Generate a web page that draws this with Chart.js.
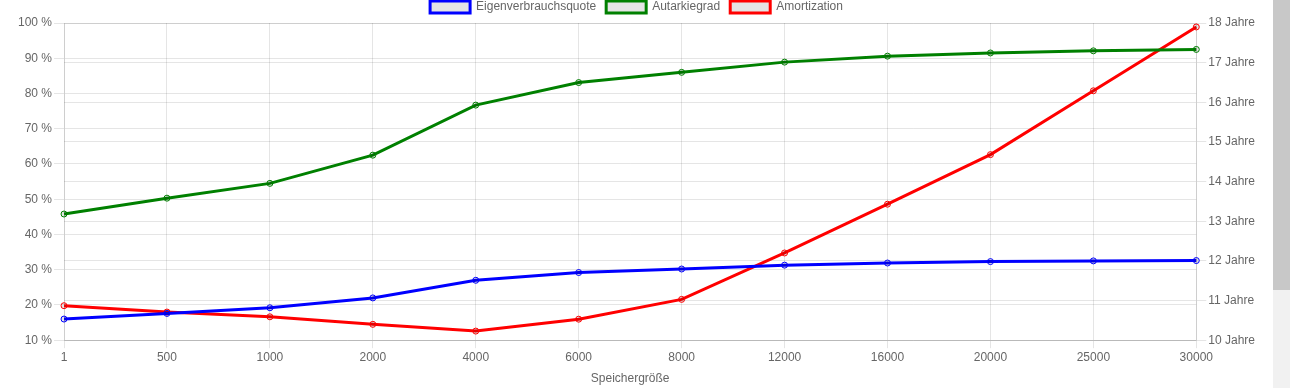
<!DOCTYPE html>
<html>
<head>
<meta charset="utf-8">
<script src="https://cdn.jsdelivr.net/npm/chart.js@4.4.1/dist/chart.umd.min.js"></script>
<style>
  html, body { margin: 0; padding: 0; background: #fff; overflow: hidden; }
  #wrap { position: absolute; left: 0; top: -9px; width: 1257px; height: 397px; }
  #sbTrack { position: absolute; left: 1273px; top: 0; width: 17px; height: 388px; background: #f1f1f1; }
  #sbThumb { position: absolute; left: 1273px; top: 0; width: 17px; height: 290px; background: #c8c8c8; }
</style>
</head>
<body>
<div id="wrap"><canvas id="chart"></canvas></div>
<div id="sbTrack"></div>
<div id="sbThumb"></div>
<script>
  const categories = ['1', '500', '1000', '2000', '4000', '6000', '8000', '12000', '16000', '20000', '25000', '30000'];
  const eigenverbrauch = [16.0, 17.6, 19.2, 22.0, 27.0, 29.2, 30.2, 31.3, 31.9, 32.3, 32.5, 32.6];
  const autarkie = [45.8, 50.3, 54.5, 62.5, 76.7, 83.1, 86.0, 88.9, 90.6, 91.5, 92.1, 92.5];
  const amortization = [10.87, 10.71, 10.59, 10.40, 10.23, 10.53, 11.03, 12.20, 13.43, 14.68, 16.29, 17.90];

  Chart.defaults.font.family = "'Helvetica Neue', Helvetica, Arial, 'Liberation Sans', sans-serif";
  Chart.defaults.font.size = 12;
  Chart.defaults.color = '#666';

  const line = (label, data, color, axis) => ({
    label,
    data,
    yAxisID: axis,
    borderColor: color,
    backgroundColor: 'rgba(0,0,0,0.1)',
    borderWidth: 3,
    pointRadius: 3,
    pointBorderWidth: 1,
    pointBackgroundColor: 'rgba(0,0,0,0.1)',
    tension: 0,
    fill: false,
  });

  new Chart(document.getElementById('chart'), {
    type: 'line',
    data: {
      labels: categories,
      datasets: [
        line('Eigenverbrauchsquote', eigenverbrauch, '#0000ff', 'yPct'),
        line('Autarkiegrad', autarkie, '#008000', 'yPct'),
        line('Amortization', amortization, '#ff0000', 'yYears'),
      ],
    },
    options: {
      responsive: true,
      maintainAspectRatio: false,
      animation: false,
      layout: { padding: { left: 16, right: 0, top: 0, bottom: 0 } },
      plugins: {
        legend: {
          position: 'top',
          labels: { boxWidth: 40, boxHeight: 12, padding: 10, color: '#666' },
        },
        tooltip: { enabled: false },
      },
      scales: {
        x: {
          grid: { color: 'rgba(0,0,0,0.1)', tickLength: 8 },
          ticks: { padding: 2, maxRotation: 0 },
          title: { display: true, text: 'Speichergröße', padding: { top: 5, bottom: 2 } },
        },
        yPct: {
          position: 'left',
          min: 10,
          max: 100,
          grid: { color: 'rgba(0,0,0,0.1)', tickLength: 10 },
          ticks: { stepSize: 10, padding: 2, callback: (v) => v + ' %' },
        },
        yYears: {
          position: 'right',
          min: 10,
          max: 18,
          grid: { color: 'rgba(0,0,0,0.1)', tickLength: 10 },
          ticks: { stepSize: 1, padding: 2, callback: (v) => v + ' Jahre' },
        },
      },
    },
  });
</script>
</body>
</html>
